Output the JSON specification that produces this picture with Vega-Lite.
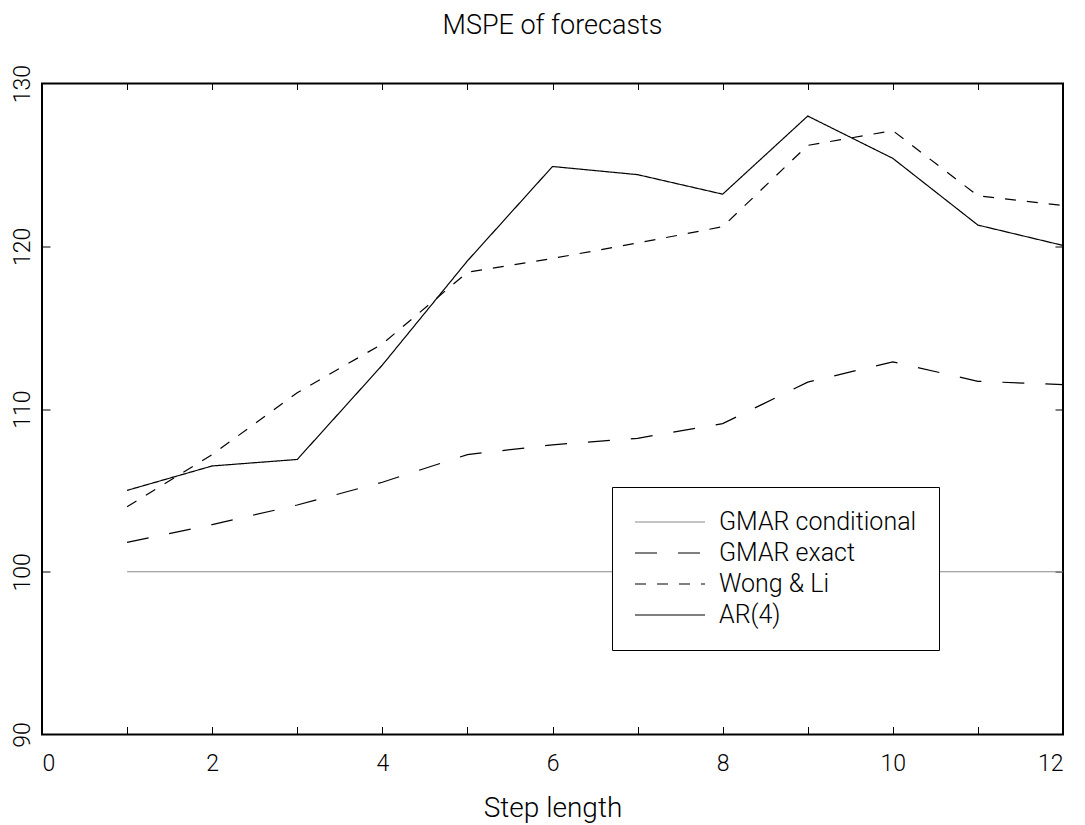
{
  "$schema": "https://vega.github.io/schema/vega-lite/v6.json",
  "width": 1021,
  "height": 651,
  "autosize": {"type": "none"},
  "padding": {"left": 42, "top": 83.5, "right": 22, "bottom": 91},
  "background": "white",
  "config": {
    "view": {"stroke": "black", "strokeWidth": 2},
    "font": "Roboto",
    "axis": {
      "grid": false,
      "domain": false,
      "tickColor": "black",
      "tickWidth": 1,
      "labelColor": "black",
      "labelFont": "Roboto",
      "labelFontWeight": 300,
      "labelFontSize": 23,
      "titleFont": "Roboto",
      "titleFontWeight": 300,
      "titleFontSize": 28,
      "titleColor": "black"
    },
    "legend": {
      "labelFont": "Roboto",
      "labelFontWeight": 300
    }
  },
  "title": {
    "text": "MSPE of forecasts",
    "fontSize": 27,
    "fontWeight": 300,
    "font": "Roboto",
    "color": "black",
    "anchor": "middle",
    "offset": 24
  },
  "data": {
    "values": [
      {"step": 1, "series": "GMAR conditional", "mspe": 100},
      {"step": 2, "series": "GMAR conditional", "mspe": 100},
      {"step": 3, "series": "GMAR conditional", "mspe": 100},
      {"step": 4, "series": "GMAR conditional", "mspe": 100},
      {"step": 5, "series": "GMAR conditional", "mspe": 100},
      {"step": 6, "series": "GMAR conditional", "mspe": 100},
      {"step": 7, "series": "GMAR conditional", "mspe": 100},
      {"step": 8, "series": "GMAR conditional", "mspe": 100},
      {"step": 9, "series": "GMAR conditional", "mspe": 100},
      {"step": 10, "series": "GMAR conditional", "mspe": 100},
      {"step": 11, "series": "GMAR conditional", "mspe": 100},
      {"step": 12, "series": "GMAR conditional", "mspe": 100},
      {"step": 1, "series": "GMAR exact", "mspe": 101.8},
      {"step": 2, "series": "GMAR exact", "mspe": 102.9},
      {"step": 3, "series": "GMAR exact", "mspe": 104.1},
      {"step": 4, "series": "GMAR exact", "mspe": 105.5},
      {"step": 5, "series": "GMAR exact", "mspe": 107.2},
      {"step": 6, "series": "GMAR exact", "mspe": 107.8},
      {"step": 7, "series": "GMAR exact", "mspe": 108.2},
      {"step": 8, "series": "GMAR exact", "mspe": 109.1},
      {"step": 9, "series": "GMAR exact", "mspe": 111.65},
      {"step": 10, "series": "GMAR exact", "mspe": 112.9},
      {"step": 11, "series": "GMAR exact", "mspe": 111.7},
      {"step": 12, "series": "GMAR exact", "mspe": 111.5},
      {"step": 1, "series": "Wong & Li", "mspe": 104.0},
      {"step": 2, "series": "Wong & Li", "mspe": 107.2},
      {"step": 3, "series": "Wong & Li", "mspe": 111.0},
      {"step": 4, "series": "Wong & Li", "mspe": 114.0},
      {"step": 5, "series": "Wong & Li", "mspe": 118.4},
      {"step": 6, "series": "Wong & Li", "mspe": 119.25},
      {"step": 7, "series": "Wong & Li", "mspe": 120.2},
      {"step": 8, "series": "Wong & Li", "mspe": 121.2},
      {"step": 9, "series": "Wong & Li", "mspe": 126.2},
      {"step": 10, "series": "Wong & Li", "mspe": 127.1},
      {"step": 11, "series": "Wong & Li", "mspe": 123.1},
      {"step": 12, "series": "Wong & Li", "mspe": 122.5},
      {"step": 1, "series": "AR(4)", "mspe": 105.0},
      {"step": 2, "series": "AR(4)", "mspe": 106.5},
      {"step": 3, "series": "AR(4)", "mspe": 106.9},
      {"step": 4, "series": "AR(4)", "mspe": 112.7},
      {"step": 5, "series": "AR(4)", "mspe": 119.1},
      {"step": 6, "series": "AR(4)", "mspe": 124.9},
      {"step": 7, "series": "AR(4)", "mspe": 124.4},
      {"step": 8, "series": "AR(4)", "mspe": 123.2},
      {"step": 9, "series": "AR(4)", "mspe": 128.0},
      {"step": 10, "series": "AR(4)", "mspe": 125.4},
      {"step": 11, "series": "AR(4)", "mspe": 121.3},
      {"step": 12, "series": "AR(4)", "mspe": 120.05}
    ]
  },
  "layer": [
    {
      "mark": {"type": "line", "strokeWidth": 1.2},
      "encoding": {
        "x": {
          "field": "step",
          "type": "quantitative",
          "scale": {"domain": [0, 12], "nice": false, "zero": false},
          "axis": {
            "orient": "bottom",
            "title": "Step length",
            "values": [0, 2, 4, 6, 8, 10, 12],
            "ticks": false,
            "labelPadding": 18,
            "labelBaseline": "top",
            "titlePadding": 19
          }
        },
        "y": {
          "field": "mspe",
          "type": "quantitative",
          "scale": {"domain": [90, 130], "nice": false, "zero": false},
          "axis": {
            "orient": "left",
            "title": null,
            "values": [90, 100, 110, 120, 130],
            "ticks": false,
            "labelAngle": 270,
            "labelAlign": "center",
            "labelBaseline": "bottom",
            "labelPadding": 8
          }
        },
        "color": {
          "field": "series",
          "type": "nominal",
          "scale": {
            "domain": ["GMAR conditional", "GMAR exact", "Wong & Li", "AR(4)"],
            "range": ["#8a8a8a", "#000000", "#000000", "#000000"]
          },
          "legend": {
            "title": null,
            "orient": "none",
            "legendX": 570,
            "legendY": 403.5,
            "direction": "vertical",
            "symbolType": "stroke",
            "symbolSize": 4900,
            "symbolStrokeWidth": 1.2,
            "clipHeight": 26,
            "rowPadding": 5,
            "labelOffset": 13,
            "labelFontSize": 25,
            "labelColor": "black",
            "labelLimit": 400,
            "padding": 22,
            "strokeColor": "black",
            "fillColor": "white"
          }
        },
        "strokeDash": {
          "field": "series",
          "type": "nominal",
          "scale": {
            "domain": ["GMAR conditional", "GMAR exact", "Wong & Li", "AR(4)"],
            "range": [[1, 0], [22, 21], [11, 11], [1, 0]]
          },
          "legend": {
            "title": null,
            "orient": "none",
            "legendX": 570,
            "legendY": 403.5,
            "direction": "vertical",
            "symbolType": "stroke",
            "symbolSize": 4900,
            "symbolStrokeWidth": 1.2,
            "clipHeight": 26,
            "rowPadding": 5,
            "labelOffset": 13,
            "labelFontSize": 25,
            "labelColor": "black",
            "labelLimit": 400,
            "padding": 22,
            "strokeColor": "black",
            "fillColor": "white"
          }
        }
      }
    },
    {
      "mark": {"type": "line", "opacity": 0},
      "encoding": {
        "x": {
          "field": "step",
          "type": "quantitative",
          "axis": {
            "orient": "bottom",
            "title": null,
            "labels": false,
            "values": [1, 2, 3, 4, 5, 6, 7, 8, 9, 10, 11],
            "tickSize": -8,
            "tickColor": "black"
          }
        },
        "y": {
          "field": "mspe",
          "type": "quantitative",
          "axis": {
            "orient": "left",
            "title": null,
            "labels": false,
            "values": [100, 110, 120],
            "tickSize": -8,
            "tickColor": "black"
          }
        }
      }
    },
    {
      "mark": {"type": "line", "opacity": 0},
      "encoding": {
        "x": {
          "field": "step",
          "type": "quantitative",
          "axis": {
            "orient": "top",
            "title": null,
            "labels": false,
            "values": [1, 2, 3, 4, 5, 6, 7, 8, 9, 10, 11],
            "tickSize": -6,
            "tickColor": "black"
          }
        },
        "y": {
          "field": "mspe",
          "type": "quantitative",
          "axis": {
            "orient": "right",
            "title": null,
            "labels": false,
            "values": [100, 110, 120],
            "tickSize": -8,
            "tickColor": "black"
          }
        }
      }
    }
  ],
  "resolve": {"axis": {"x": "independent", "y": "independent"}}
}
